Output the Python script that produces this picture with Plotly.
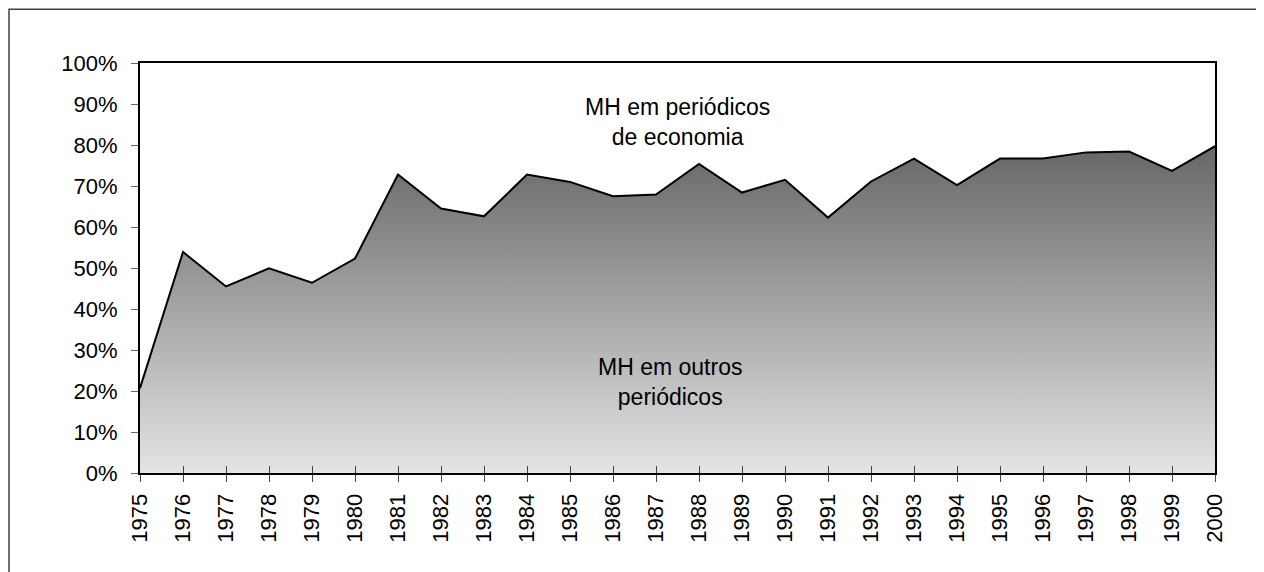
import plotly.graph_objects as go

years = list(range(1975, 2001))
share_econ = [20.7, 53.9, 45.5, 49.9, 46.4, 52.3, 72.8, 64.5, 62.6, 72.8,
              71.0, 67.5, 67.9, 75.4, 68.4, 71.5, 62.3, 71.1, 76.7, 70.2,
              76.7, 76.7, 78.2, 78.4, 73.7, 79.7]
y_ticks = list(range(0, 101, 10))
label_top = "MH em periódicos<br>de economia"
label_bottom = "MH em outros<br>periódicos"

W, H = 1256, 564
L, R, T, B = 132, 49, 55.3, 98.7
pw, ph = W - L - R, H - T - B

fig = go.Figure()
fig.add_trace(go.Scatter(
    x=years, y=share_econ, mode="lines", fill="tozeroy",
    line=dict(color="black", width=2),
    fillgradient=dict(type="vertical", start=0, stop=80,
                      colorscale=[[0, "#e4e4e4"], [1, "#666666"]]),
    hoverinfo="skip", showlegend=False,
))
# dummy trace for overlay axis (inside ticks)
fig.add_trace(go.Scatter(x=[years[0]], y=[0], xaxis="x2", mode="markers",
                         marker=dict(opacity=0), hoverinfo="skip", showlegend=False))

font = "Liberation Sans, Arial, sans-serif"
fig.update_layout(
    width=W, height=H,
    margin=dict(l=L, r=R, t=T, b=B),
    paper_bgcolor="white", plot_bgcolor="white",
    font=dict(family=font, size=21, color="black"),
    xaxis=dict(range=[years[0], years[-1]], tickmode="array", tickvals=years,
               ticktext=[str(y) for y in years], tickangle=-90,
               ticks="outside", ticklen=7, tickcolor="#444", tickwidth=1,
               ticklabelstandoff=3,
               showgrid=False, zeroline=False, showline=True, linecolor="black",
               linewidth=2, mirror=True, tickfont=dict(size=22, family=font)),
    xaxis2=dict(range=[years[0], years[-1]], overlaying="x", tickmode="array",
                tickvals=years, ticks="inside", ticklen=7, tickcolor="#444",
                tickwidth=1, showticklabels=False, showgrid=False,
                zeroline=False, showline=False, side="bottom"),
    yaxis=dict(range=[0, 100], tickmode="array", tickvals=y_ticks,
               ticktext=[f"{v}%" for v in y_ticks],
               ticks="outside", ticklen=7, tickcolor="#666", tickwidth=1,
               ticklabelstandoff=9,
               showgrid=False, zeroline=False, showline=True, linecolor="black",
               linewidth=2, mirror=True, tickfont=dict(size=22, family=font)),
    annotations=[
        dict(x=1987.49, y=85.6, xref="x", yref="y", text=label_top,
             showarrow=False, font=dict(size=23, family=font, color="black")),
        dict(x=1987.33, y=22.3, xref="x", yref="y", text=label_bottom,
             showarrow=False, font=dict(size=23, family=font, color="black")),
    ],
    shapes=[dict(type="rect", xref="paper", yref="paper",
                 x0=(1 - L) / pw, x1=(W + 10 - L) / pw,
                 y0=(T + ph - (H + 10)) / ph, y1=(T + ph - 1.5) / ph,
                 line=dict(color="#404040", width=1.5), layer="below")],
)

fig.write_html("out.html")
